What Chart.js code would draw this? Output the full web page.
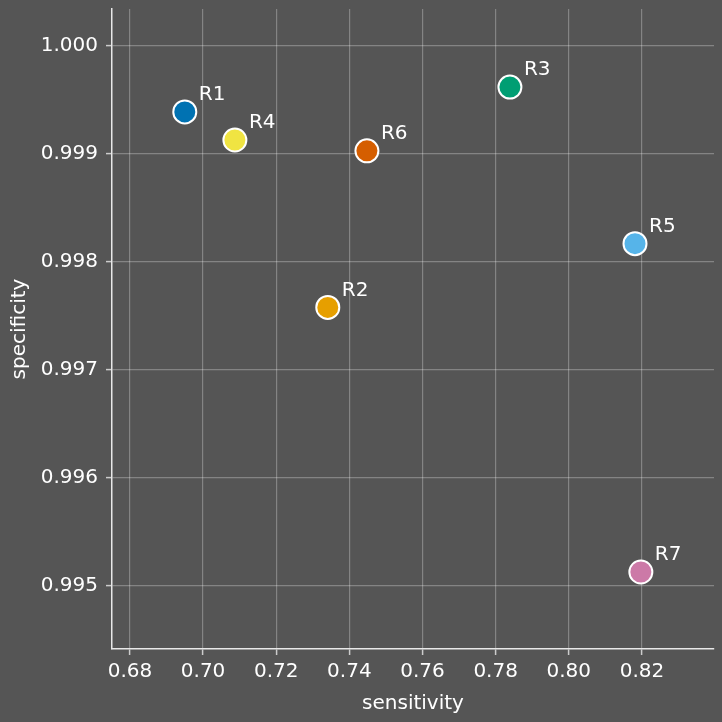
<!DOCTYPE html>
<html lang="en">
  <head>
    <meta charset="UTF-8" />
    <title>Sensitivity vs specificity</title>
    <style>
      * { margin: 0; padding: 0; }
      body { background: #555555; width: 722px; height: 722px; overflow: hidden; }
      #box { width: 722px; height: 722px; }
    </style>
  </head>
  <body>
    <div id="box"><canvas id="myChart" width="722" height="722"></canvas></div>

    <script src="https://cdn.jsdelivr.net/npm/chart.js"></script>
    <script>
      // data block
      const names = ["R1", "R2", "R3", "R4", "R5", "R6", "R7"];
      const sensitivity = [0.6950, 0.7341, 0.7839, 0.7087, 0.8181, 0.7448, 0.8197];
      const specificity = [0.99939, 0.99758, 0.99962, 0.99913, 0.99817, 0.99903, 0.99513];
      const colors = ["#0072B2", "#E69F00", "#009E73", "#F0E442", "#56B4E9", "#D55E00", "#CC79A7"];
      const xTicks = [0.68, 0.70, 0.72, 0.74, 0.76, 0.78, 0.80, 0.82];
      const yTicks = [0.995, 0.996, 0.997, 0.998, 0.999, 1.000];

      const FONT = "'DejaVu Sans', sans-serif";
      const SIZE = 20;
      const FG = "#ffffff";
      const GRID = "rgba(255,255,255,0.28)";

      Chart.defaults.font.family = FONT;
      Chart.defaults.font.size = SIZE;
      Chart.defaults.color = FG;

      const bgPlugin = {
        id: "bg",
        beforeDraw: (chart) => {
          const { ctx, width, height } = chart;
          ctx.save();
          ctx.fillStyle = "#555555";
          ctx.fillRect(0, 0, width, height);
          ctx.restore();
        }
      };

      // text label next to each point
      const pointLabels = {
        id: "pointLabels",
        afterDatasetsDraw: (chart) => {
          const { ctx } = chart;
          ctx.save();
          ctx.font = `${SIZE}px ${FONT}`;
          ctx.fillStyle = FG;
          ctx.textAlign = "left";
          ctx.textBaseline = "middle";
          chart.getDatasetMeta(0).data.forEach((pt, i) => {
            ctx.fillText(names[i], pt.x + 14, pt.y - 17);
          });
          ctx.restore();
        }
      };

      const data = {
        datasets: [
          {
            data: names.map((n, i) => ({ x: sensitivity[i], y: specificity[i] })),
            backgroundColor: colors,
            borderColor: "#ffffff",
            borderWidth: 2,
            pointRadius: 11.5,
            pointHoverRadius: 11.5
          }
        ]
      };

      const config = {
        type: "scatter",
        data,
        options: {
          responsive: false,
          animation: false,
          devicePixelRatio: 1,
          layout: { autoPadding: false, padding: { top: 9, right: 8, left: 0, bottom: 0 } },
          plugins: { legend: { display: false }, tooltip: { enabled: false } },
          scales: {
            x: {
              type: "linear",
              min: 0.6751,
              max: 0.8397,
              afterBuildTicks: (axis) => { axis.ticks = xTicks.map((v) => ({ value: v })); },
              afterFit: (axis) => {
                axis.height = 73;
                axis.paddingLeft = 0;
                axis.paddingRight = 0;
              },
              ticks: { padding: 5, callback: (v) => v.toFixed(2), color: FG, maxRotation: 0, autoSkip: false, font: { size: SIZE } },
              grid: { color: GRID, lineWidth: 1.2, tickLength: 6, tickColor: "#cccccc", tickWidth: 1.5 },
              border: { display: true, color: "#e8e8e8", width: 1.5 },
              title: { display: true, text: "sensitivity", color: FG, font: { size: SIZE }, padding: { top: 0, bottom: 6 } }
            },
            y: {
              type: "linear",
              min: 0.994417,
              max: 1.000343,
              afterBuildTicks: (axis) => { axis.ticks = yTicks.map((v) => ({ value: v })); },
              afterFit: (axis) => {
                axis.width = 112;
                axis.paddingTop = 0;
                axis.paddingBottom = 0;
              },
              ticks: { padding: 8, callback: (v) => v.toFixed(3), color: FG, autoSkip: false, font: { size: SIZE } },
              grid: { color: GRID, lineWidth: 1.2, tickLength: 6, tickColor: "#cccccc", tickWidth: 1.5 },
              border: { display: true, color: "#e8e8e8", width: 1.5 },
              title: { display: true, text: "specificity", color: FG, font: { size: SIZE }, padding: { top: 8, bottom: 0 } }
            }
          }
        },
        plugins: [bgPlugin, pointLabels]
      };

      const myChart = new Chart(document.getElementById("myChart"), config);
    </script>
  </body>
</html>
